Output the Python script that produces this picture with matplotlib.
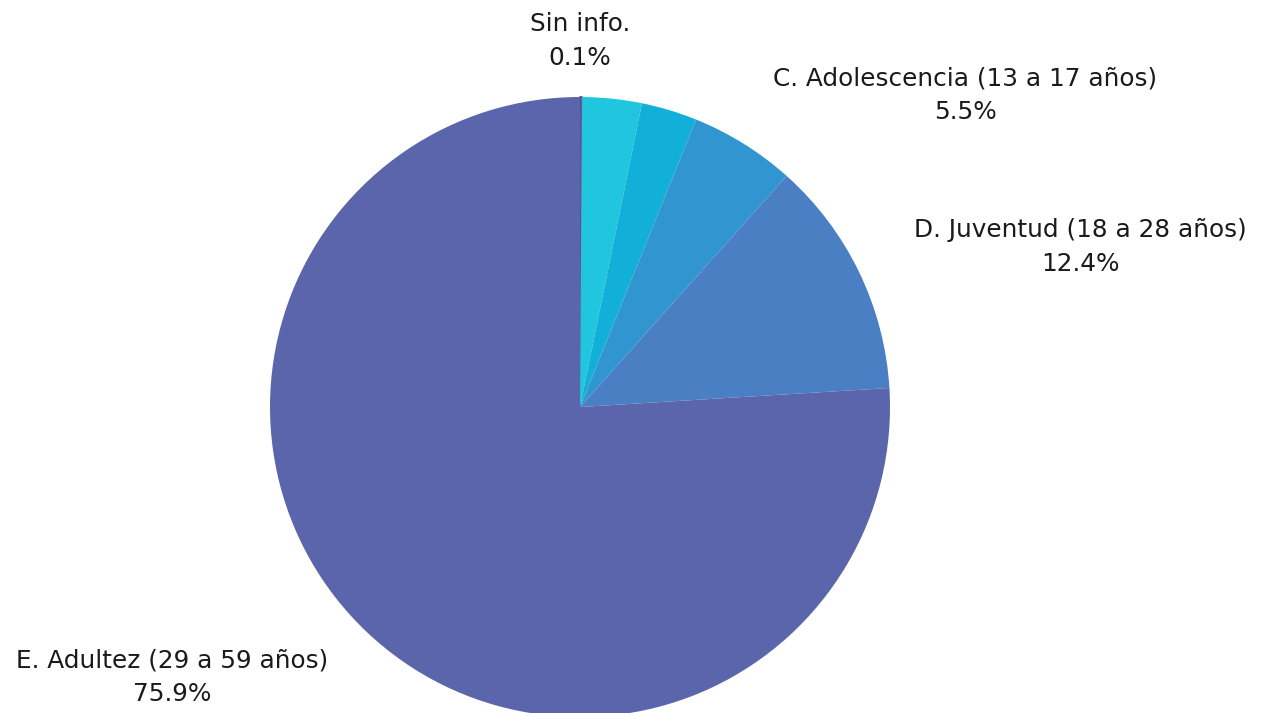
import matplotlib
matplotlib.use("Agg")
import matplotlib.pyplot as plt

labels = ["Sin info.", "A. Infancia", "B. Niñez", "C. Adolescencia (13 a 17 años)",
          "D. Juventud (18 a 28 años)", "E. Adultez (29 a 59 años)"]
values = [0.1, 3.1, 2.9, 5.5, 12.4, 75.9]
colors = ["#6A4C93", "#1FC6DE", "#12AFD9", "#3196D0", "#4A7FC4", "#5B65AC"]
show_label = [True, False, False, True, True, True]

W, H = 1272, 713
fig = plt.figure(figsize=(W / 100, H / 100), dpi=100)
cx, cy, r = 580, 407, 310
ax = fig.add_axes([(cx - r) / W, (H - cy - r) / H, 2 * r / W, 2 * r / H])
wedges, _ = ax.pie(values, colors=colors, startangle=90, counterclock=False, radius=1,
                   wedgeprops=dict(linewidth=0), frame=False)
# make the tiny "Sin info." sliver visible as in the reference
wedges[0].set_edgecolor(colors[0])
wedges[0].set_linewidth(1.2)
ax.set_xlim(-1, 1)
ax.set_ylim(-1, 1)
ax.set_aspect("equal")
ax.axis("off")

# label anchor positions (pixel, center of two-line block)
label_pos = {0: (580, 41), 3: (965, 95), 4: (1080, 247), 5: (172, 677)}
for i, (lab, v) in enumerate(zip(labels, values)):
    if not show_label[i]:
        continue
    px, py = label_pos[i]
    fig.text(px / W, 1 - py / H, f"{lab}\n{v:.1f}%", ha="center", va="center",
             fontsize=17.8, color="#1a1a1a", family=["DejaVu Sans"],
             linespacing=1.5)

fig.savefig("out.png", dpi=100)
